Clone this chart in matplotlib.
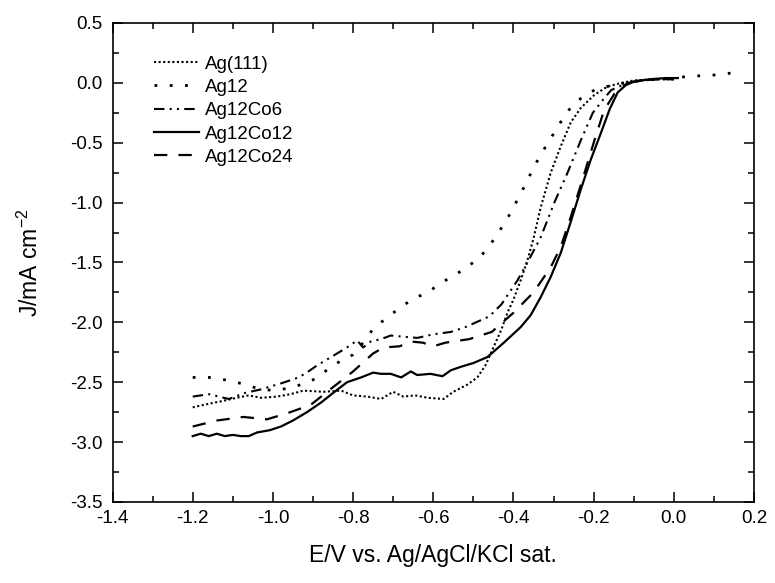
import matplotlib
matplotlib.use("Agg")
import matplotlib.pyplot as plt
from matplotlib.ticker import MultipleLocator

plt.rcParams["font.family"] = ["Liberation Sans", "DejaVu Sans"]
plt.rcParams["mathtext.default"] = "regular"
plt.rcParams["axes.unicode_minus"] = False

# Ag(111)
e_ag111 = [-1.20, -1.16, -1.13, -1.09, -1.06, -1.03, -0.99, -0.956, -0.924, -0.874,
           -0.83, -0.80, -0.765, -0.73, -0.70, -0.675, -0.645, -0.614, -0.574, -0.55,
           -0.515, -0.49, -0.47, -0.45, -0.43, -0.415, -0.40, -0.382, -0.365, -0.35,
           -0.332, -0.307, -0.282, -0.257, -0.232, -0.198, -0.165, -0.13, -0.10, -0.05, 0.0]
j_ag111 = [-2.71, -2.68, -2.66, -2.63, -2.61, -2.63, -2.62, -2.60, -2.57, -2.58,
           -2.57, -2.61, -2.62, -2.64, -2.58, -2.62, -2.61, -2.63, -2.64, -2.58,
           -2.52, -2.46, -2.36, -2.21, -2.06, -1.92, -1.81, -1.65, -1.48, -1.30,
           -1.04, -0.75, -0.53, -0.33, -0.21, -0.10, -0.03, 0.0, 0.02, 0.03, 0.03]

# Ag12
e_ag12 = [-1.20, -1.16, -1.12, -1.08, -1.04, -1.00, -0.96, -0.93, -0.90, -0.87,
          -0.84, -0.80, -0.775, -0.749, -0.715, -0.68, -0.648, -0.614, -0.58, -0.544,
          -0.511, -0.477, -0.449, -0.426, -0.406, -0.386, -0.369, -0.35, -0.332, -0.31,
          -0.29, -0.266, -0.232, -0.198, -0.165, -0.12, -0.08, -0.04, 0.0, 0.044,
          0.08, 0.118, 0.16]
j_ag12 = [-2.46, -2.46, -2.48, -2.51, -2.55, -2.57, -2.55, -2.52, -2.48, -2.41,
          -2.34, -2.27, -2.17, -2.05, -1.96, -1.87, -1.80, -1.75, -1.67, -1.60,
          -1.53, -1.43, -1.31, -1.19, -1.08, -0.95, -0.84, -0.71, -0.60, -0.48,
          -0.37, -0.24, -0.13, -0.06, -0.03, 0.0, 0.02, 0.03, 0.04, 0.057,
          0.06, 0.07, 0.09]

# Ag12Co6
e_co6 = [-1.20, -1.16, -1.11, -1.07, -1.03, -0.98, -0.944, -0.92, -0.89, -0.86,
         -0.83, -0.806, -0.79, -0.775, -0.756, -0.73, -0.706, -0.675, -0.64, -0.60,
         -0.556, -0.52, -0.48, -0.46, -0.43, -0.39, -0.365, -0.332, -0.298, -0.265,
         -0.232, -0.202, -0.174, -0.156, -0.115, -0.08, -0.04, 0.0]
j_co6 = [-2.62, -2.60, -2.64, -2.59, -2.56, -2.51, -2.47, -2.43, -2.36, -2.30,
         -2.24, -2.19, -2.15, -2.21, -2.16, -2.14, -2.11, -2.12, -2.13, -2.10,
         -2.08, -2.04, -1.98, -1.95, -1.85, -1.65, -1.50, -1.29, -1.00, -0.75,
         -0.48, -0.25, -0.13, -0.06, 0.0, 0.02, 0.03, 0.03]

# Ag12Co12
e_co12 = [-1.20, -1.18, -1.16, -1.14, -1.12, -1.10, -1.08, -1.06, -1.04, -1.007,
          -0.98, -0.95, -0.915, -0.88, -0.85, -0.815, -0.78, -0.75, -0.73, -0.706,
          -0.68, -0.656, -0.64, -0.607, -0.577, -0.556, -0.53, -0.50, -0.465, -0.424,
          -0.382, -0.357, -0.332, -0.307, -0.282, -0.257, -0.232, -0.207, -0.182, -0.16,
          -0.14, -0.12, -0.10, -0.06, -0.02, 0.01]
j_co12 = [-2.95, -2.93, -2.95, -2.93, -2.95, -2.94, -2.95, -2.95, -2.92, -2.90,
          -2.87, -2.82, -2.75, -2.67, -2.59, -2.50, -2.46, -2.42, -2.43, -2.43,
          -2.46, -2.41, -2.44, -2.43, -2.45, -2.40, -2.37, -2.34, -2.29, -2.17,
          -2.04, -1.94, -1.79, -1.62, -1.42, -1.16, -0.89, -0.64, -0.42, -0.22,
          -0.08, -0.02, 0.01, 0.03, 0.04, 0.04]

# Ag12Co24
e_co24 = [-1.20, -1.14, -1.074, -1.015, -0.965, -0.906, -0.857, -0.80, -0.75, -0.724,
          -0.684, -0.655, -0.626, -0.60, -0.57, -0.51, -0.454, -0.40, -0.35, -0.307,
          -0.282, -0.257, -0.228, -0.198, -0.174, -0.148, -0.115, -0.08, -0.04, 0.0]
j_co24 = [-2.87, -2.82, -2.79, -2.81, -2.76, -2.69, -2.56, -2.41, -2.26, -2.21,
          -2.20, -2.16, -2.17, -2.20, -2.17, -2.14, -2.08, -1.92, -1.75, -1.54,
          -1.37, -1.12, -0.81, -0.48, -0.23, -0.09, 0.0, 0.02, 0.03, 0.03]

fig = plt.figure(figsize=(7.75, 5.83), dpi=100)
ax = fig.add_axes([0.1452, 0.139, 0.8277, 0.8216])

ax.plot(e_ag111, j_ag111, color="black", lw=1.5, linestyle=(0, (1, 1.2)), label="Ag(111)")
ax.plot(e_ag12, j_ag12, color="black", lw=2.0, linestyle=(0, (1, 4.5)), label="Ag12")
ax.plot(e_co6, j_co6, color="black", lw=1.5, linestyle=(0, (5, 2.5, 1, 2.5, 1, 2.5)), label="Ag12Co6")
ax.plot(e_co12, j_co12, color="black", lw=1.6, linestyle="-", label="Ag12Co12")
ax.plot(e_co24, j_co24, color="black", lw=1.6, linestyle=(0, (6, 5)), label="Ag12Co24")

ax.set_xlim(-1.4, 0.2)
ax.set_ylim(-3.5, 0.5)
ax.xaxis.set_major_locator(MultipleLocator(0.2))
ax.xaxis.set_minor_locator(MultipleLocator(0.1))
ax.yaxis.set_major_locator(MultipleLocator(0.5))
ax.yaxis.set_minor_locator(MultipleLocator(0.25))
ax.tick_params(which="both", direction="in", top=True, right=True, width=1.1, labelsize=13.5)
ax.tick_params(which="major", length=7)
ax.tick_params(which="minor", length=4)
ax.tick_params(axis="x", pad=6)
ax.tick_params(axis="y", pad=7)
for s in ax.spines.values():
    s.set_linewidth(1.2)

ax.set_xlabel("E/V vs. Ag/AgCl/KCl sat.", fontsize=16.5, labelpad=12)
ax.set_ylabel("J/mA cm$^{-2}$", fontsize=16.5, labelpad=20)

ax.legend(loc="upper left", bbox_to_anchor=(0.065, 0.932), frameon=False, fontsize=13.5,
          handlelength=2.4, handletextpad=0.3, labelspacing=0.33, borderaxespad=0, borderpad=0)

fig.savefig("out.png", dpi=100)
